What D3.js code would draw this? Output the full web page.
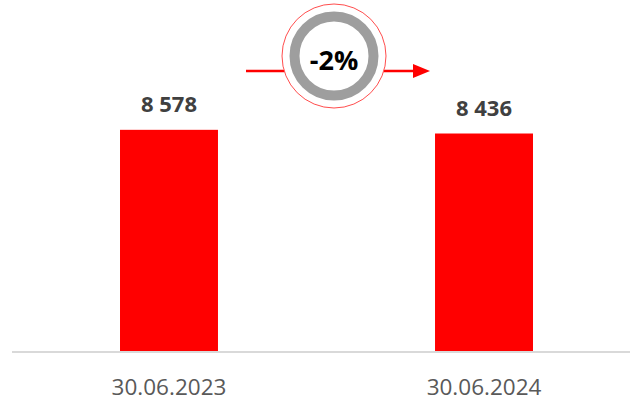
<!DOCTYPE html>
<html>
<head>
<meta charset="utf-8">
<script src="https://cdn.jsdelivr.net/npm/d3@7"></script>
<style>
  body { margin: 0; background: #fff; }
  svg { display: block; font-family: "Open Sans", sans-serif; }
</style>
</head>
<body>
<div id="chart"></div>
<script>
// data
var categories = ["30.06.2023", "30.06.2024"];
var values = [8578, 8436];
var changeLabel = "-2%";

var w = 630;
var h = 403;
var baseY = 352;

var svg = d3.select("#chart")
  .append("svg")
  .attr("width", w)
  .attr("height", h);

var xScale = d3.scaleBand()
  .domain(categories)
  .range([17, 636])
  .paddingInner(0.689)
  .paddingOuter(0.327);

var yScale = d3.scaleLinear()
  .domain([0, 10000])
  .range([baseY, 93]);

// bars
svg.selectAll("rect.bar")
  .data(values)
  .enter()
  .append("rect")
  .attr("class", "bar")
  .attr("x", function(d, i) { return xScale(categories[i]); })
  .attr("y", function(d) { return yScale(d); })
  .attr("width", xScale.bandwidth())
  .attr("height", function(d) { return baseY - yScale(d); })
  .attr("fill", "#ff0000");

// value labels
svg.selectAll("text.val")
  .data(values)
  .enter()
  .append("text")
  .attr("class", "val")
  .attr("x", function(d, i) { return xScale(categories[i]) + xScale.bandwidth() / 2; })
  .attr("y", function(d) { return yScale(d) - 18; })
  .attr("text-anchor", "middle")
  .attr("font-size", "22px")
  .attr("font-weight", "bold")
  .attr("fill", "#404040")
  .text(function(d) { return d3.format(",")(d).replace(/,/g, " "); });

// x axis
var xAxis = d3.axisBottom(xScale).tickSize(0).tickPadding(27);
var gx = svg.append("g")
  .attr("transform", "translate(0," + baseY + ")")
  .call(xAxis);
gx.select(".domain").remove();
gx.append("line")
  .attr("x1", 12).attr("x2", 630)
  .attr("stroke", "#d9d9d9")
  .attr("stroke-width", 2);
gx.selectAll(".tick text")
  .attr("font-family", "Open Sans, sans-serif")
  .attr("font-size", "22.5px")
  .attr("fill", "#595959");

// change badge with arrow
var cx = 334, cy = 56;
var arrowY = 71;
svg.append("line")
  .attr("x1", 246).attr("x2", 414)
  .attr("y1", arrowY).attr("y2", arrowY)
  .attr("stroke", "#ff0000")
  .attr("stroke-width", 2.5);
svg.append("path")
  .attr("d", "M413," + (arrowY - 7) + " L430," + arrowY + " L413," + (arrowY + 7) + " Z")
  .attr("fill", "#ff0000");

svg.append("circle")
  .attr("cx", cx).attr("cy", cy).attr("r", 52)
  .attr("fill", "#fff")
  .attr("stroke", "#ff4d4d")
  .attr("stroke-width", 1);
svg.append("circle")
  .attr("cx", cx).attr("cy", cy).attr("r", 39.5)
  .attr("fill", "#fff")
  .attr("stroke", "#9e9e9e")
  .attr("stroke-width", 10);
svg.append("text")
  .attr("x", cx).attr("y", 70)
  .attr("text-anchor", "middle")
  .attr("font-size", "27px")
  .attr("font-weight", "bold")
  .attr("fill", "#000")
  .text(changeLabel);
</script>
</body>
</html>
